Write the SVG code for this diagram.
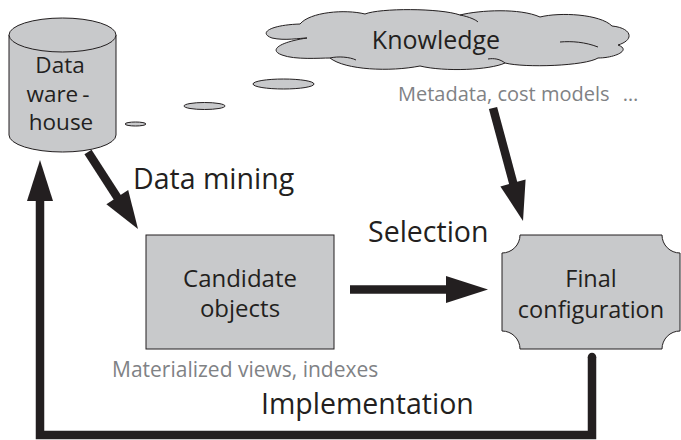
<svg xmlns="http://www.w3.org/2000/svg" width="681" height="440" viewBox="0 0 681 440">
<style>
.shape{fill:#c8c9cb;stroke:#231f20;stroke-width:1}
.t{font-family:"Open Sans","Noto Sans","Liberation Sans",sans-serif;fill:#231f20}
.g{font-family:"Open Sans","Noto Sans","Liberation Sans",sans-serif;fill:#808285}
.line{fill:none;stroke:#231f20;stroke-width:8.5}
.head{fill:#231f20}
</style>
<rect width="681" height="440" fill="#ffffff"/>
<g id="warehouse">
<path class="shape" d="M9,35 V135 A53.5,17 0 0 0 116,135 V35 Z"/>
<ellipse class="shape" cx="62.5" cy="35" rx="53.5" ry="17"/>
<text class="t" font-size="22.5" text-anchor="middle"><tspan x="60" y="73">Data</tspan><tspan x="58" y="102">ware</tspan><tspan dx="4">-</tspan><tspan x="61" y="130">house</tspan></text>
</g>
<g id="bubbles">
<ellipse class="shape" cx="135.5" cy="124" rx="10.5" ry="2"/>
<ellipse class="shape" cx="204.5" cy="106" rx="20.5" ry="3.5"/>
<ellipse class="shape" cx="283.5" cy="84" rx="30.5" ry="5"/>
</g>
<g id="knowledge">
<path class="shape" d="M300,24 C270,25 258,33 272,38 C285,41 300,38 307,38 C280,42 268,50 282,55 C295,60 320,58 330,58 C345,70 390,72 420,66 C445,72 490,70 505,63 C525,68 585,66 598,58 C615,58 632,50 618,45 C635,40 632,28 612,26 C600,14 560,12 540,17 C520,8 480,10 460,15 C440,8 380,8 365,14 C345,9 310,12 300,24 Z"/>
<path fill="none" stroke="#231f20" stroke-width="1" d="M330,58 C338,56 350,57 356,60 M505,63 C500,59 494,58 488,59 M560,42 C572,41 585,42 598,47 M460,15 C470,17 476,20 478,22"/>
<text class="t" font-size="25" x="436" y="49" text-anchor="middle">Knowledge</text>
<text class="g" font-size="20" x="398" y="101">Metadata, cost models <tspan dx="8" letter-spacing="2">…</tspan></text>
</g>
<g id="candidate">
<rect class="shape" x="146" y="235" width="188" height="114"/>
<text class="t" font-size="24" text-anchor="middle"><tspan x="240" y="287">Candidate</tspan><tspan x="240" y="317">objects</tspan></text>
<text class="g" font-size="21" x="112" y="377">Materialized views, indexes</text>
</g>
<g id="final">
<path class="shape" d="M520,235 H662 A18,18 0 0 0 680,253 V331 A18,18 0 0 0 662,349 H520 A18,18 0 0 0 502,331 V253 A18,18 0 0 0 520,235 Z"/>
<text class="t" font-size="23.5" text-anchor="middle"><tspan x="591" y="287">Final</tspan><tspan x="591" y="318">configuration</tspan></text>
</g>
<g id="connectors">
<line class="line" x1="88" y1="152" x2="119" y2="200"/>
<polygon class="head" points="138,229 128.2,190 106.4,204.2"/>
<text class="t" font-size="28.5" x="133" y="189">Data mining</text>
<line class="line" x1="493" y1="108" x2="514" y2="186"/>
<polygon class="head" points="523,221 525.6,179.6 500.4,186.4"/>
<line class="line" x1="350" y1="289.5" x2="448" y2="289.5"/>
<polygon class="head" points="488,289.5 446,276 446,303"/>
<text class="t" font-size="28.5" x="368" y="242">Selection</text>
<path class="line" d="M592,357 V435 H40 V196" stroke-linecap="butt" stroke-linejoin="miter"/>
<circle cx="592" cy="357" r="4.25" fill="#231f20"/>
<polygon class="head" points="40,160 27,201 53,201"/>
<text class="t" font-size="28.5" x="261" y="414">Implementation</text>
</g>
</svg>
